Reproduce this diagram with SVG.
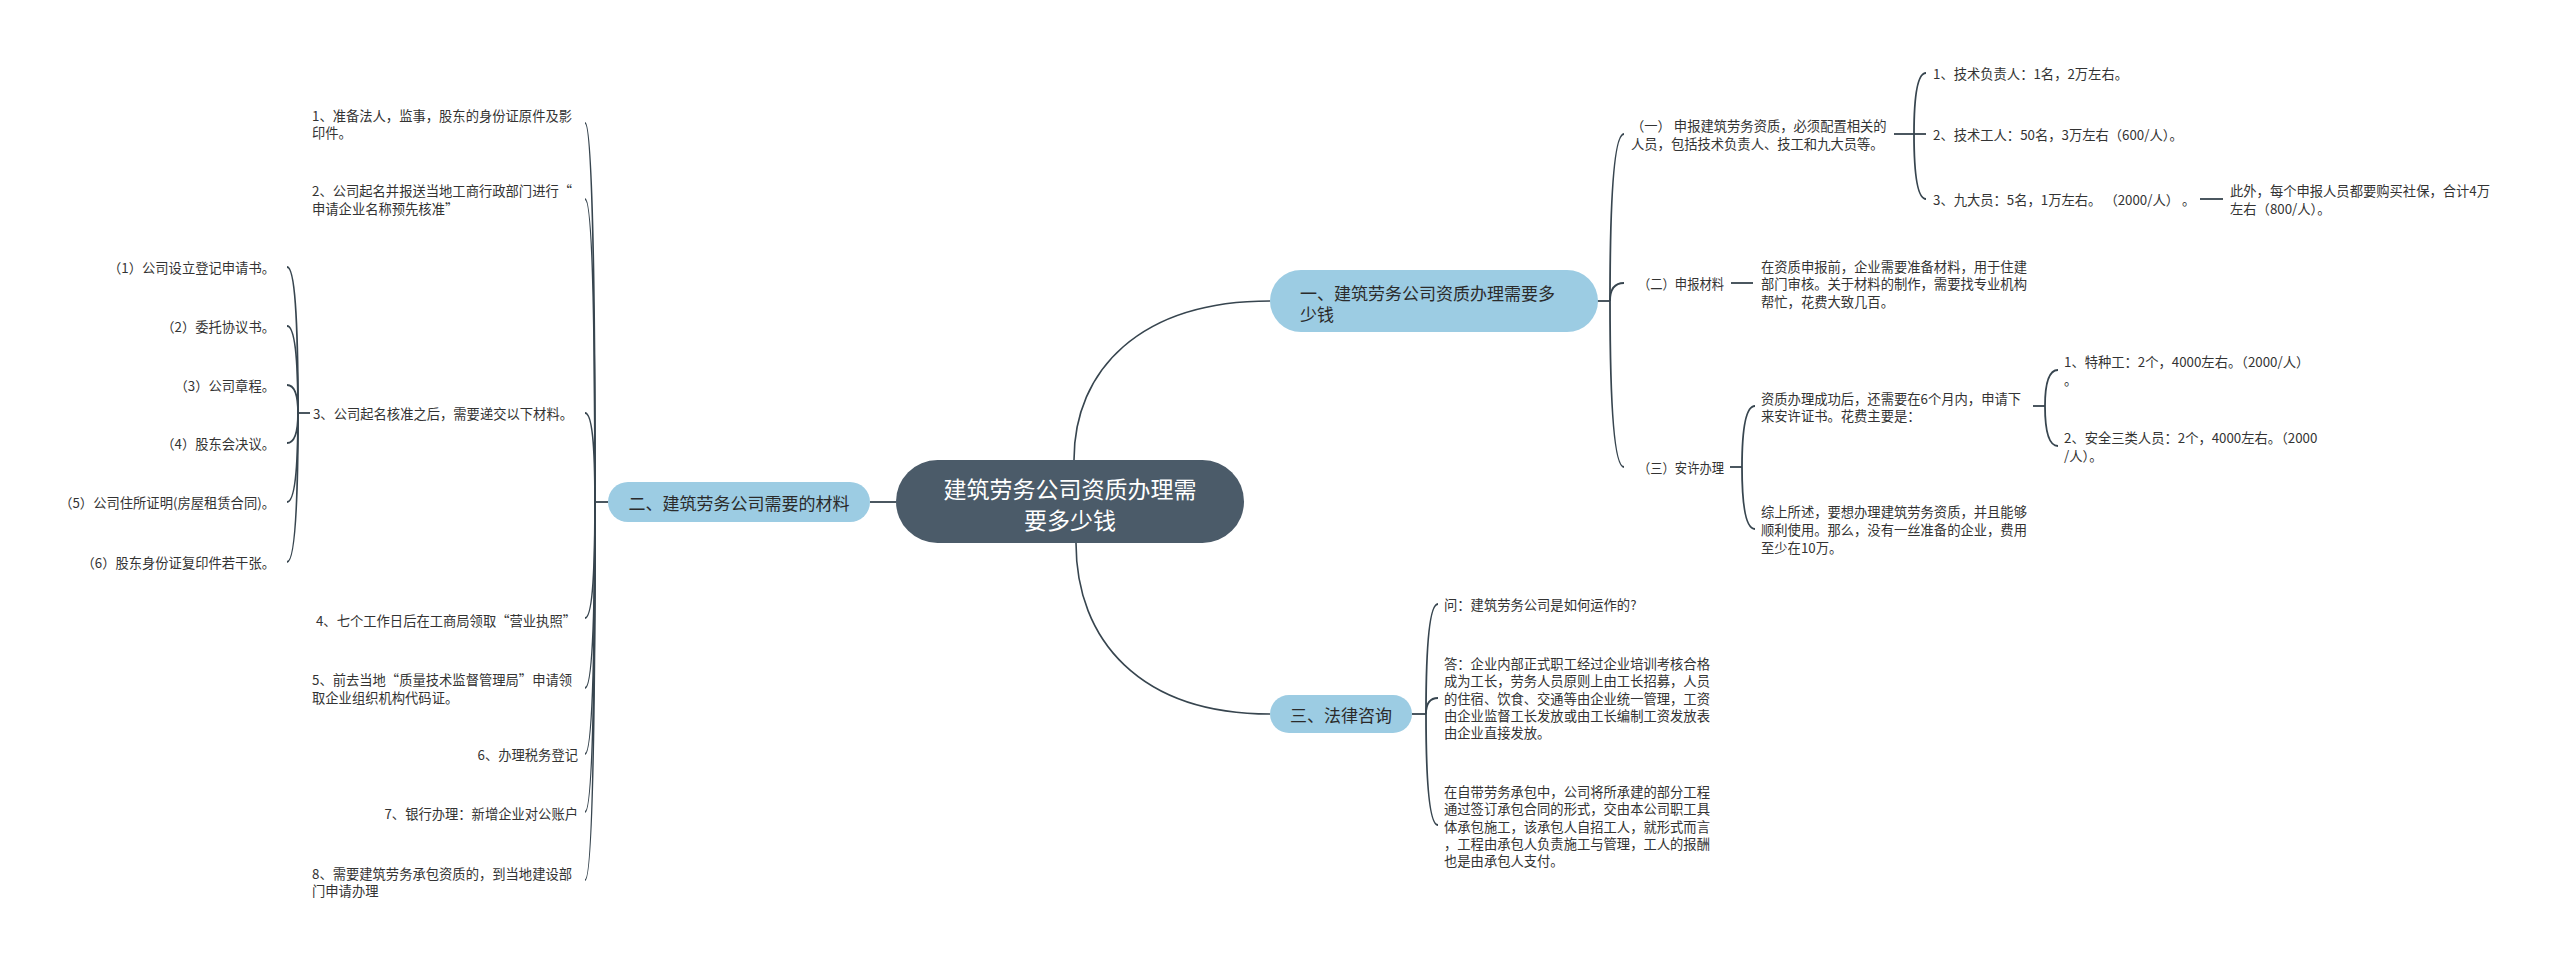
<svg xmlns="http://www.w3.org/2000/svg" width="2560" height="961" viewBox="0 0 2560 961">
<style>
text{font-family:"Microsoft YaHei","Noto Sans CJK SC","Noto Sans",sans-serif;dominant-baseline:central}
.leaf{font-size:13.3px;fill:#333}
.br{font-size:17px;fill:#2b2b2b}
.ct{font-size:23px;fill:#ffffff}
.c{fill:none;stroke:#37454f;stroke-width:1.8}
.cm{fill:none;stroke:#37454f;stroke-width:1.6}
.bn{fill:#9ccce3}
.cn{fill:#4b5b69}
</style>
<rect width="2560" height="961" fill="#ffffff"/>
<g id="connectors">
<path class="cm" d="M1074,460 C1074,370 1140,301 1270,301"/>
<path class="cm" d="M1076,543 C1076,640 1140,714 1270,714"/>
<path class="c" d="M896,502 H870"/>
<path class="c" d="M608,502 H595"/>
<path class="c" d="M595,502 Q595,123 585,123"/>
<path class="c" d="M595,502 Q595,199 585,199"/>
<path class="c" d="M595,502 Q595,413 585,413"/>
<path class="c" d="M595,502 Q595,618 585,618"/>
<path class="c" d="M595,502 Q595,688 585,688"/>
<path class="c" d="M595,502 Q595,754 585,754"/>
<path class="c" d="M595,502 Q595,812 585,812"/>
<path class="c" d="M595,502 Q595,880 585,880"/>
<path class="c" d="M310,413 H298"/>
<path class="c" d="M298,413 Q298,267 287,267"/>
<path class="c" d="M298,413 Q298,326 287,326"/>
<path class="c" d="M298,413 Q298,385 287,385"/>
<path class="c" d="M298,413 Q298,443 287,443"/>
<path class="c" d="M298,413 Q298,502 287,502"/>
<path class="c" d="M298,413 Q298,562 287,562"/>
<path class="c" d="M1597,301 H1610"/>
<path class="c" d="M1610,301 Q1610,134 1624,134"/>
<path class="c" d="M1610,301 Q1610,283 1624,283"/>
<path class="c" d="M1610,301 Q1610,467 1624,467"/>
<path class="c" d="M1894,134 H1914"/>
<path class="c" d="M1914,134 Q1914,73 1926,73"/>
<path class="c" d="M1914,134 H1926"/>
<path class="c" d="M1914,134 Q1914,199 1926,199"/>
<path class="c" d="M2200,199 H2223"/>
<path class="c" d="M1731,283 H1753"/>
<path class="c" d="M1730,467 H1742"/>
<path class="c" d="M1742,467 Q1742,406 1755,406"/>
<path class="c" d="M1742,467 Q1742,529 1755,529"/>
<path class="c" d="M2033,406 H2045"/>
<path class="c" d="M2045,406 Q2045,370 2058,370"/>
<path class="c" d="M2045,406 Q2045,446 2058,446"/>
<path class="c" d="M1412,714 H1426"/>
<path class="c" d="M1426,714 Q1426,604 1438,604"/>
<path class="c" d="M1426,714 Q1426,698 1438,698"/>
<path class="c" d="M1426,714 Q1426,825 1438,825"/>
</g>
<g id="center">
<rect class="cn" x="896" y="460" width="348" height="83" rx="41.5"/>
<text class="ct" x="1070" y="488" text-anchor="middle">建筑劳务公司资质办理需</text>
<text class="ct" x="1070" y="519" text-anchor="middle">要多少钱</text>
</g>
<g id="b1">
<rect class="bn" x="1270" y="270" width="328" height="62" rx="31"/>
<text class="br" x="1300" y="292">一、建筑劳务公司资质办理需要多</text>
<text class="br" x="1300" y="313">少钱</text>
</g>
<g id="b2">
<rect class="bn" x="608" y="482" width="262" height="40" rx="20"/>
<text class="br" x="739" y="502" text-anchor="middle">二、建筑劳务公司需要的材料</text>
</g>
<g id="b3">
<rect class="bn" x="1270" y="695" width="142" height="38" rx="19"/>
<text class="br" x="1341" y="714" text-anchor="middle">三、法律咨询</text>
</g>
<g id="l1"><text class="leaf" x="312" y="115">1、准备法人，监事，股东的身份证原件及影</text><text class="leaf" x="312" y="132">印件。</text></g>
<g id="l2"><text class="leaf" x="312" y="190">2、公司起名并报送当地工商行政部门进行“</text><text class="leaf" x="312" y="208">申请企业名称预先核准”</text></g>
<g id="l3"><text class="leaf" x="573" y="413" text-anchor="end">3、公司起名核准之后，需要递交以下材料。</text></g>
<g id="l3a"><text class="leaf" x="275" y="267" text-anchor="end">（1）公司设立登记申请书。</text></g>
<g id="l3b"><text class="leaf" x="275" y="326" text-anchor="end">（2）委托协议书。</text></g>
<g id="l3c"><text class="leaf" x="275" y="385" text-anchor="end">（3）公司章程。</text></g>
<g id="l3d"><text class="leaf" x="275" y="443" text-anchor="end">（4）股东会决议。</text></g>
<g id="l3e"><text class="leaf" x="275" y="502" text-anchor="end">（5）公司住所证明(房屋租赁合同)。</text></g>
<g id="l3f"><text class="leaf" x="275" y="562" text-anchor="end">（6）股东身份证复印件若干张。</text></g>
<g id="l4"><text class="leaf" x="576" y="620" text-anchor="end">4、七个工作日后在工商局领取“营业执照”</text></g>
<g id="l5"><text class="leaf" x="312" y="679">5、前去当地“质量技术监督管理局”申请领</text><text class="leaf" x="312" y="697">取企业组织机构代码证。</text></g>
<g id="l6"><text class="leaf" x="578" y="754" text-anchor="end">6、办理税务登记</text></g>
<g id="l7"><text class="leaf" x="578" y="813" text-anchor="end">7、银行办理：新增企业对公账户</text></g>
<g id="l8"><text class="leaf" x="312" y="873">8、需要建筑劳务承包资质的，到当地建设部</text><text class="leaf" x="312" y="890">门申请办理</text></g>
<g id="r1"><text class="leaf" x="1631" y="125">（一） 申报建筑劳务资质，必须配置相关的</text><text class="leaf" x="1631" y="143">人员，包括技术负责人、技工和九大员等。</text></g>
<g id="r1a"><text class="leaf" x="1933" y="73">1、技术负责人：1名，2万左右。</text></g>
<g id="r1b"><text class="leaf" x="1933" y="134">2、技术工人：50名，3万左右（600/人）。</text></g>
<g id="r1c"><text class="leaf" x="1933" y="199">3、九大员：5名，1万左右。 （2000/人） 。</text></g>
<g id="r1d"><text class="leaf" x="2230" y="190">此外，每个申报人员都要购买社保，合计4万</text><text class="leaf" x="2230" y="208">左右（800/人）。</text></g>
<g id="r2"><text class="leaf" x="1638" y="283" textLength="86" lengthAdjust="spacingAndGlyphs">（二）申报材料</text></g>
<g id="r2a"><text class="leaf" x="1761" y="266">在资质申报前，企业需要准备材料，用于住建</text><text class="leaf" x="1761" y="283">部门审核。关于材料的制作，需要找专业机构</text><text class="leaf" x="1761" y="301">帮忙，花费大致几百。</text></g>
<g id="r3"><text class="leaf" x="1638" y="467" textLength="86" lengthAdjust="spacingAndGlyphs">（三）安许办理</text></g>
<g id="r3a"><text class="leaf" x="1761" y="398">资质办理成功后，还需要在6个月内，申请下</text><text class="leaf" x="1761" y="415">来安许证书。花费主要是：</text></g>
<g id="r3a1"><text class="leaf" x="2064" y="361">1、特种工：2个，4000左右。（2000/人）</text><text class="leaf" x="2064" y="379">。</text></g>
<g id="r3a2"><text class="leaf" x="2064" y="437">2、安全三类人员：2个，4000左右。（2000</text><text class="leaf" x="2064" y="455">/人）。</text></g>
<g id="r3b"><text class="leaf" x="1761" y="511">综上所述，要想办理建筑劳务资质，并且能够</text><text class="leaf" x="1761" y="529">顺利使用。那么，没有一丝准备的企业，费用</text><text class="leaf" x="1761" y="547">至少在10万。</text></g>
<g id="q1"><text class="leaf" x="1444" y="604">问：建筑劳务公司是如何运作的?</text></g>
<g id="q2"><text class="leaf" x="1444" y="663">答：企业内部正式职工经过企业培训考核合格</text><text class="leaf" x="1444" y="680">成为工长，劳务人员原则上由工长招募，人员</text><text class="leaf" x="1444" y="698">的住宿、饮食、交通等由企业统一管理，工资</text><text class="leaf" x="1444" y="715">由企业监督工长发放或由工长编制工资发放表</text><text class="leaf" x="1444" y="732">由企业直接发放。</text></g>
<g id="q3"><text class="leaf" x="1444" y="791">在自带劳务承包中，公司将所承建的部分工程</text><text class="leaf" x="1444" y="808">通过签订承包合同的形式，交由本公司职工具</text><text class="leaf" x="1444" y="826">体承包施工，该承包人自招工人，就形式而言</text><text class="leaf" x="1444" y="843">，工程由承包人负责施工与管理，工人的报酬</text><text class="leaf" x="1444" y="860">也是由承包人支付。</text></g>
</svg>
